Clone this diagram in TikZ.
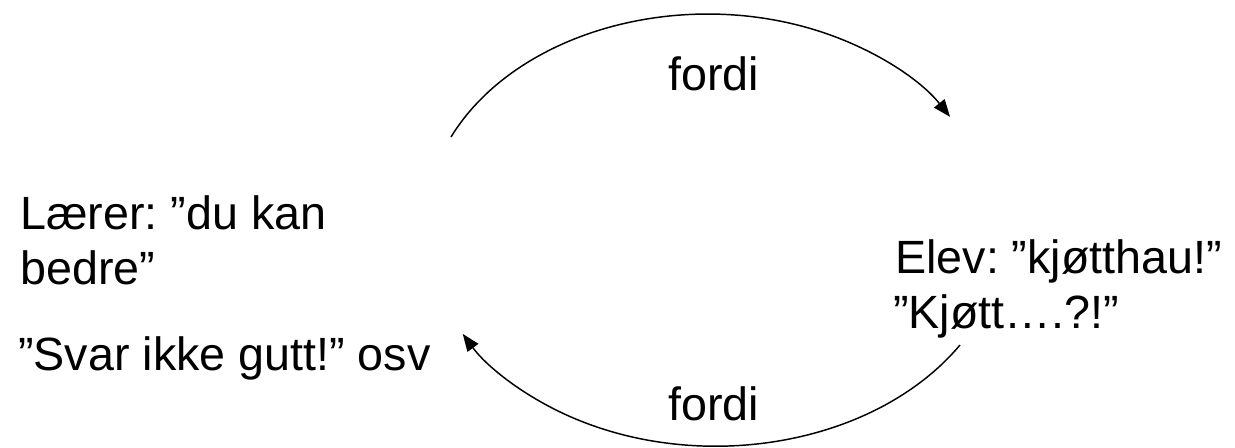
\documentclass[tikz,border=0pt]{standalone}
\usepackage{fontspec}
\setmainfont{Liberation Sans}
\frenchspacing
\usetikzlibrary{arrows.meta}

\begin{document}
\begin{tikzpicture}[x=0.75pt,y=-0.75pt]
    \tikzset{txt/.style={anchor=base west, inner sep=0pt, font=\fontsize{35}{42}\selectfont},
        bue/.style={line width=1.1pt, -{Triangle[length=13pt,width=10pt]}}}
    \useasboundingbox (0,0) rectangle (1235,448);

    \node[txt] (laerer) at (20,230) {Lærer: ”du kan};
    \node[txt] (bedre) at (20,285) {bedre”};
    \node[txt] (svar) at (18,371) {”Svar ikke gutt!” osv};
    \node[txt] (elev) at (895,274) {Elev: ”kjøtthau!”};
    \node[txt] (kjott) at (893,329) {”Kjøtt….?!”};
    \node[txt] (fordiopp) at (668,91) {fordi};
    \node[txt] (fordined) at (668,421) {fordi};

    \coordinate (oppstart) at (451,137);
    \coordinate (nedstart) at (960,345);
    \draw[bue] (oppstart) arc[start angle=155.5, end angle=30.7, x radius=211.5pt, y radius=157.5pt];
    \draw[bue] (nedstart) arc[start angle=-32.3, end angle=-151.1, x radius=216.75pt, y radius=163pt];
\end{tikzpicture}
\end{document}
